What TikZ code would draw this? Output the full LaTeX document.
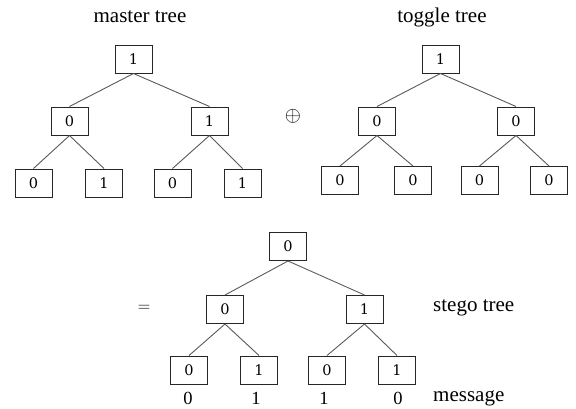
\documentclass[tikz,border=0pt]{standalone}
\usepackage{fontspec}
\setmainfont{Liberation Serif}
\newfontfamily\digitfont{DejaVu Serif}
\begin{document}
\begin{tikzpicture}[x=1pt,y=-1pt,
  bx/.style={draw=black!85, line width=1pt, minimum width=37pt, minimum height=28pt, inner sep=0pt, font=\digitfont\fontsize{14.5}{16}\selectfont},
  ed/.style={draw=black!65, line width=0.9pt},
  lbl/.style={font=\fontsize{21}{24}\selectfont, inner sep=0pt},
  msg/.style={font=\fontsize{18.5}{20}\selectfont, inner sep=0pt}]
\useasboundingbox (0,0) rectangle (576,408);
% master tree
\node[lbl] (tm) at (140,17) {master tree};
\node[bx] (m) at (133.5,59) {1};
\node[bx] (ml) at (69.5,121) {0};
\node[bx] (mr) at (209.5,121) {1};
\node[bx] (m1) at (33.5,183) {0};
\node[bx] (m2) at (104,183) {1};
\node[bx] (m3) at (172.5,183) {0};
\node[bx] (m4) at (242.5,183) {1};
\draw[ed] (m.south) -- (ml.north);
\draw[ed] (m.south) -- (mr.north);
\draw[ed] (ml.south) -- (m1.north);
\draw[ed] (ml.south) -- (m2.north);
\draw[ed] (mr.south) -- (m3.north);
\draw[ed] (mr.south) -- (m4.north);
% oplus
\node[inner sep=0pt, font=\fontsize{20}{24}\selectfont] (op) at (293,116) {$\oplus$};
% toggle tree
\node[lbl] (tt) at (442,17) {toggle tree};
\node[bx] (t) at (440.5,59) {1};
\node[bx] (tl) at (377,121) {0};
\node[bx] (tr) at (516,121) {0};
\node[bx] (t1) at (340,180.5) {0};
\node[bx] (t2) at (413,180.5) {0};
\node[bx] (t3) at (479.5,180.5) {0};
\node[bx] (t4) at (549,180.5) {0};
\draw[ed] (t.south) -- (tl.north);
\draw[ed] (t.south) -- (tr.north);
\draw[ed] (tl.south) -- (t1.north);
\draw[ed] (tl.south) -- (t2.north);
\draw[ed] (tr.south) -- (t3.north);
\draw[ed] (tr.south) -- (t4.north);
% equals
\node[inner sep=0pt, font=\fontsize{16}{20}\selectfont] (eq) at (144,308) {$=$};
% stego tree
\node[bx] (s) at (288,246.5) {0};
\node[bx] (sl) at (225,309.5) {0};
\node[bx] (sr) at (364.5,309.5) {1};
\node[bx] (s1) at (189,370) {0};
\node[bx] (s2) at (259,370) {1};
\node[bx] (s3) at (327,370) {0};
\node[bx] (s4) at (397,370) {1};
\draw[ed] (s.south) -- (sl.north);
\draw[ed] (s.south) -- (sr.north);
\draw[ed] (sl.south) -- (s1.north);
\draw[ed] (sl.south) -- (s2.north);
\draw[ed] (sr.south) -- (s3.north);
\draw[ed] (sr.south) -- (s4.north);
\node[lbl, anchor=west] (ts) at (433,308) {stego tree};
% message
\node[msg] (d1) at (188,398) {0};
\node[msg] (d2) at (256,398) {1};
\node[msg] (d3) at (324,398) {1};
\node[msg] (d4) at (398,398) {0};
\node[lbl, anchor=west] (tmsg) at (433,398) {message};
\end{tikzpicture}
\end{document}
